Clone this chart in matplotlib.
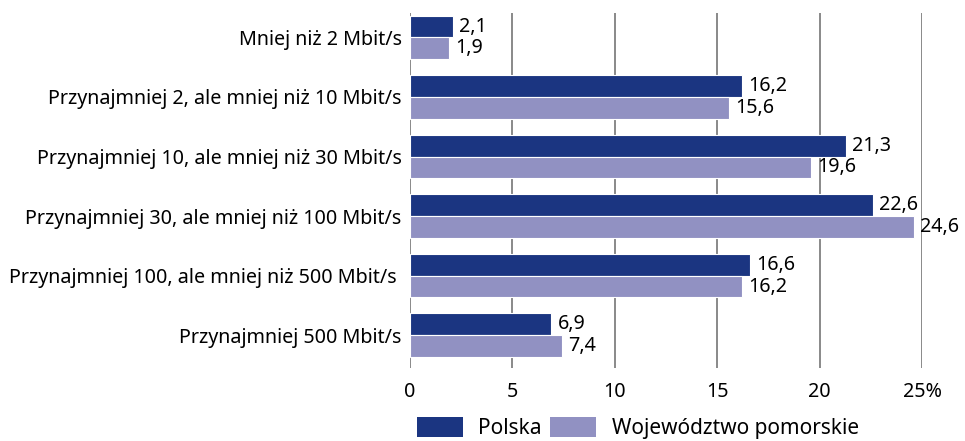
import matplotlib.pyplot as plt
from matplotlib.patches import Patch
import numpy as np

plt.rcParams['font.family'] = ['Noto Sans', 'DejaVu Sans']

kategorie = ['Mniej niż 2 Mbit/s',
             'Przynajmniej 2, ale mniej niż 10 Mbit/s',
             'Przynajmniej 10, ale mniej niż 30 Mbit/s',
             'Przynajmniej 30, ale mniej niż 100 Mbit/s',
             'Przynajmniej 100, ale mniej niż 500 Mbit/s ',
             'Przynajmniej 500 Mbit/s']
polska = [2.1, 16.2, 21.3, 22.6, 16.6, 6.9]
pomorskie = [1.9, 15.6, 19.6, 24.6, 16.2, 7.4]
xticks = [0, 5, 10, 15, 20, 25]
xlabels = ['0', '5', '10', '15', '20', '25%']

c_pl = '#1b3581'
c_pom = '#9191c2'
fs = 14.2

fig = plt.figure(figsize=(9.65, 4.41), dpi=100)
ax = fig.add_axes([410/965, 1-368/441, (922-410)/965, (368-13)/441])

y = np.arange(len(kategorie))
h = 0.365
ax.barh(y - h/2, polska, height=h, color=c_pl, edgecolor='white', linewidth=0.8, zorder=3)
ax.barh(y + h/2, pomorskie, height=h, color=c_pom, edgecolor='white', linewidth=0.8, zorder=3)

for i in range(len(kategorie)):
    ax.text(polska[i] + 0.3, y[i] - h/2, f'{polska[i]:.1f}'.replace('.', ','),
            va='center', ha='left', fontsize=fs)
    ax.text(pomorskie[i] + 0.3, y[i] + h/2, f'{pomorskie[i]:.1f}'.replace('.', ','),
            va='center', ha='left', fontsize=fs)

ax.set_xlim(0, 25)
ax.set_ylim(5.55, -0.41)
ax.set_yticks(y)
ax.set_yticklabels(kategorie, fontsize=fs)
ax.set_xticks(xticks)
ax.set_xticklabels(xlabels, fontsize=fs)
ax.tick_params(axis='both', length=0)
ax.tick_params(axis='x', pad=10)
ax.tick_params(axis='y', pad=6)

for s in ax.spines.values():
    s.set_visible(False)
ax.grid(axis='x', color='#808080', linewidth=1.3, zorder=0)
ax.set_axisbelow(True)

handles = [Patch(facecolor=c_pl, label='Polska'),
           Patch(facecolor=c_pom, label='Województwo pomorskie')]
fig.legend(handles=handles, loc='center', bbox_to_anchor=(638/965, 1-428/441),
           ncol=2, frameon=False, fontsize=15, handlelength=2.2, handleheight=1.1,
           handletextpad=0.75, columnspacing=0.4, borderpad=0)

fig.savefig('out.png', dpi=100)
